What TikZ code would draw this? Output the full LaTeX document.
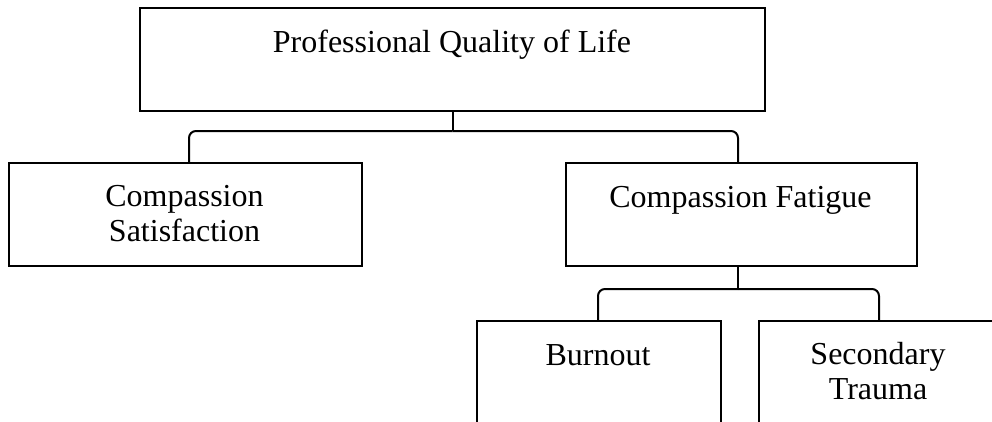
\documentclass[tikz,border=0pt]{standalone}
\usepackage{fontspec}
\setmainfont{Liberation Serif}
\begin{document}
\begin{tikzpicture}[x=1pt,y=-1pt,
  box/.style={draw=black, line width=2pt, rectangle, inner sep=0pt, anchor=north west},
  lbl/.style={font=\fontsize{32}{35}\selectfont, inner sep=0pt, align=center},
  conn/.style={draw=black, line width=2pt, rounded corners=7pt}]
\useasboundingbox (0,0) rectangle (992,421);
\clip (0,0) rectangle (992,421);

% boxes
\node[box, minimum width=625pt, minimum height=103pt] (pql) at (139,7) {};
\node[box, minimum width=353pt, minimum height=103pt] (cs) at (8,162) {};
\node[box, minimum width=351pt, minimum height=103pt] (cf) at (565,162) {};
\node[box, minimum width=244pt, minimum height=130pt] (bo) at (476,320) {};
\node[box, minimum width=240pt, minimum height=130pt] (st) at (758,320) {};

% labels
\node[lbl, anchor=base] (pqlt) at (452,52) {Professional Quality of Life};
\node[lbl, anchor=north] (cst) at (184.5,185) {Compassion\\Satisfaction};
\node[lbl, anchor=base] (cft) at (740.5,207) {Compassion Fatigue};
\node[lbl, anchor=base] (bot) at (598,365) {Burnout};
\node[lbl, anchor=north] (stt) at (878,342) {Secondary\\Trauma};

% connectors
\draw[conn] (pql.south) -- ++(0,19) coordinate (j1);
\draw[conn] (j1) -| ([xshift=3.5pt]cs.north);
\draw[conn] (j1) -| ([xshift=-3.5pt]cf.north);
\draw[conn] ([xshift=-3.5pt]cf.south) -- ++(0,22) coordinate (j2);
\draw[conn] (j2) -| ([xshift=-1pt]bo.north);
\draw[conn] (j2) -| (st.north);
\end{tikzpicture}
\end{document}
